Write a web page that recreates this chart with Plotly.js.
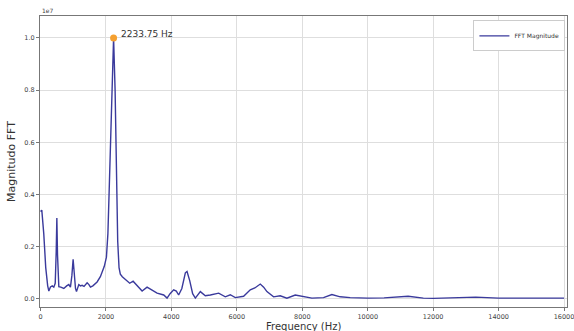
<!DOCTYPE html>
<html>
<head>
<meta charset="utf-8">
<script src="https://cdn.plot.ly/plotly-3.0.1.min.js"></script>
<style>html,body{margin:0;padding:0;background:#fff;}#chart{width:574px;height:331px;}</style>
</head>
<body>
<div id="chart"></div>
<script>
// Frequency (Hz)
const freq = [0, 40, 100, 160, 220, 255, 305, 360, 407, 450, 480, 500, 520, 560, 620, 713, 800, 865, 916, 960, 997, 1030, 1070, 1100, 1170, 1220, 1272, 1330, 1425, 1480, 1527, 1600, 1730, 1830, 1950, 2015, 2060, 2107, 2150, 2198, 2233.75, 2280, 2320, 2360, 2400, 2440, 2500, 2595, 2727, 2830, 2952, 3105, 3257, 3410, 3563, 3766, 3868, 3960, 4070, 4150, 4222, 4320, 4427, 4478, 4560, 4650, 4732, 4885, 5037, 5190, 5445, 5648, 5800, 5953, 6207, 6411, 6550, 6717, 6820, 6920, 7123, 7327, 7530, 7785, 8039, 8294, 8650, 8905, 9159, 9464, 10000, 10500, 11235, 11700, 12000, 12600, 13300, 14000, 15000, 16000];
// FFT magnitude (units of 1e7)
const magnitude = [0.335, 0.34, 0.25, 0.12, 0.05, 0.03, 0.046, 0.05, 0.045, 0.06, 0.18, 0.31, 0.17, 0.047, 0.045, 0.04, 0.05, 0.055, 0.045, 0.09, 0.152, 0.1, 0.04, 0.028, 0.055, 0.05, 0.052, 0.048, 0.062, 0.055, 0.045, 0.05, 0.065, 0.085, 0.125, 0.16, 0.25, 0.45, 0.62, 0.8, 1.0, 0.8, 0.45, 0.22, 0.12, 0.095, 0.085, 0.075, 0.06, 0.068, 0.05, 0.03, 0.045, 0.035, 0.022, 0.015, 0.003, 0.02, 0.035, 0.03, 0.015, 0.04, 0.1, 0.105, 0.07, 0.02, 0.003, 0.028, 0.012, 0.015, 0.022, 0.008, 0.016, 0.005, 0.01, 0.035, 0.042, 0.057, 0.045, 0.028, 0.008, 0.012, 0.003, 0.015, 0.008, 0.003, 0.005, 0.017, 0.008, 0.005, 0.003, 0.004, 0.01, 0.003, 0.002, 0.004, 0.007, 0.003, 0.003, 0.003];
const peakFreq = [2233.75];
const peakMag = [1.0];
const peakLabel = "2233.75 Hz";
const yTicks = [0, 0.2, 0.4, 0.6, 0.8, 1.0];
const xTicks = [0, 2000, 4000, 6000, 8000, 10000, 12000, 14000, 16000];
const xTickText = ["0", "2000", "4000", "6000", "8000", "10000", "12000", "14000", "16000"];

const traces = [
  {x: freq, y: magnitude, type: 'scatter', mode: 'lines', name: 'FFT Magnitude',
   line: {color: '#3a3a9c', width: 1.4}},
  {x: peakFreq, y: peakMag, type: 'scatter', mode: 'markers', showlegend: false,
   marker: {color: '#f5a030', size: 7}}
];
const axisCommon = {showline: true, mirror: true, linecolor: '#777', linewidth: 1,
  gridcolor: '#dedede', gridwidth: 1, ticks: 'outside', ticklen: 3, tickcolor: '#777',
  tickfont: {family: 'DejaVu Sans', size: 6.5, color: '#444'}, zeroline: false};
const layout = {
  width: 574, height: 331,
  margin: {l: 40, r: 7, t: 16, b: 24},
  paper_bgcolor: '#fff', plot_bgcolor: '#fff',
  showlegend: true,
  legend: {x: 0.997, y: 0.985, xanchor: 'right', yanchor: 'top', bgcolor: '#fff',
    bordercolor: '#ccc', borderwidth: 1, itemwidth: 30, tracegroupgap: 0,
    font: {family: 'DejaVu Sans', size: 6, color: '#333'}},
  xaxis: Object.assign({}, axisCommon, {range: [-15, 16090], tickvals: xTicks, ticktext: xTickText,
    ticklabeloverflow: 'allow'}),
  yaxis: Object.assign({}, axisCommon, {range: [-0.031, 1.084], tickvals: yTicks, tickformat: '.1f',
    title: {text: 'Magnitudo FFT', font: {family: 'DejaVu Sans', size: 11, color: '#333'}, standoff: 6}}),
  annotations: [
    {x: peakFreq[0], y: peakMag[0], xref: 'x', yref: 'y', text: peakLabel, showarrow: false,
     xanchor: 'left', yanchor: 'middle', xshift: 5, yshift: 4,
     font: {family: 'DejaVu Sans', size: 9, color: '#333'}},
    {x: 0, y: 1, xref: 'paper', yref: 'paper', text: '1e7', showarrow: false,
     xanchor: 'left', yanchor: 'bottom', font: {family: 'DejaVu Sans', size: 6, color: '#444'}},
    {x: 0.5, y: 0, xref: 'paper', yref: 'paper', yanchor: 'top', yshift: -12, showarrow: false,
     text: 'Frequency (Hz)', font: {family: 'DejaVu Sans', size: 10, color: '#333'}}
  ]
};
Plotly.newPlot('chart', traces, layout, {displayModeBar: false, staticPlot: true});
</script>
</body>
</html>
